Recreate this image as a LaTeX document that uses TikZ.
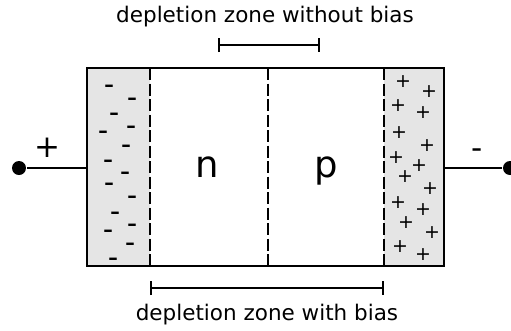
\documentclass[tikz,border=0pt]{standalone}
\usepackage{fontspec}
\setmainfont{DejaVu Sans}
\usetikzlibrary{arrows.meta}
\begin{document}
\begin{tikzpicture}[x=1pt, y=-1pt, line width=2.4pt,
  zone/.style={fill=black!10, draw=none},
  bord/.style={line width=2pt, dash pattern=on 12pt off 3.5pt},
  borne/.style={circle, fill=black, inner sep=0pt, minimum size=14pt},
  signe/.style={font=\fontsize{31}{31}\selectfont, inner sep=0pt},
  charge/.style={font=\fontsize{19}{19}\selectfont, inner sep=0pt},
  legende/.style={font=\fontsize{21.5}{21.5}\selectfont, inner sep=0pt},
  region/.style={font=\fontsize{37}{37}\selectfont, inner sep=0pt, anchor=base},
  zonebar/.style={line width=1.6pt, {Bar[width=14pt]}-{Bar[width=14pt]}}]

\useasboundingbox (0,0) rectangle (511,330);

% Zones chargées
\fill[zone] (87,68) rectangle (150,266);
\fill[zone] (384,68) rectangle (444,266);

% Bornes et fils
\node[borne] (bg) at (19,168) {};
\node[borne] (bd) at (510,168) {};
\node[draw, minimum width=357pt, minimum height=198pt, inner sep=0pt] (diode) at (265.5,167) {};
\draw (bg) -- (bg -| diode.west);
\draw (bd) -- (bd -| diode.east);
\node[signe] (sp) at (47,148) {+};
\node[signe] (sm) at (477,154) {-};

% Limites des zones
\draw[bord] (150,68) -- (150,266);
\draw[bord] (268,68) -- (268,266);
\draw[bord] (384,68) -- (384,266);

% Régions n et p
\node[region] (n) at (207,177) {n};
\node[region] (p) at (326,177) {p};

% Charges
\foreach \x/\y in {109/86, 132/99, 114/114, 131/127, 103/132, 126/146, 108/161,
  125/173, 109/184, 132/197, 115/213, 132/225, 108/231, 130/244, 113/259}
  \node[charge, font=\fontsize{19}{19}\selectfont\bfseries, yshift=-2pt] at (\x,\y) {–};
\foreach \x/\y in {403/82, 429/92, 398/106, 423/113, 399/133, 427/146, 396/158,
  419/166, 405/177, 430/189, 398/203, 423/210, 406/223, 432/233, 400/247, 423/255}
  \node[charge] at (\x,\y) {+};

% Largeurs de la zone de déplétion
\coordinate (h1) at (218,45);
\coordinate (h2) at (320,45);
\draw[zonebar] (h1) -- (h2);
\node[legende] (th) at (265,17) {depletion zone without bias};
\coordinate (b1) at (150,288);
\coordinate (b2) at (384,288);
\draw[zonebar] (b1) -- (b2);
\node[legende] (tb) at (267,315) {depletion zone with bias};

\end{tikzpicture}
\end{document}
